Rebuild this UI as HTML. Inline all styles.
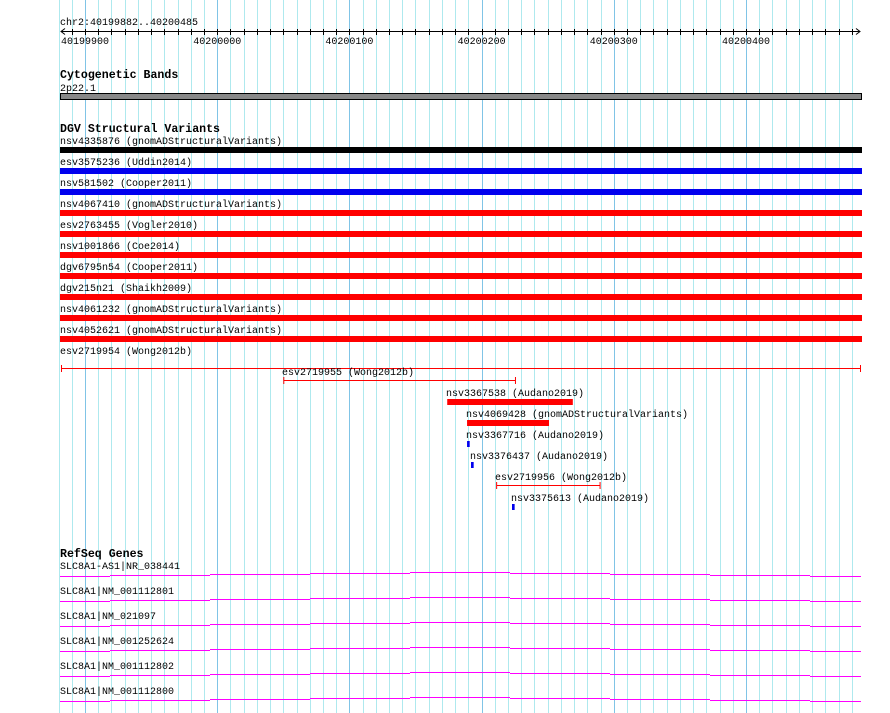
<!DOCTYPE html>
<html><head><meta charset="utf-8"><style>
html,body{margin:0;padding:0;background:#fff;}
svg{display:block;}
text{font-family:"Liberation Mono",monospace;font-size:10px;fill:#000;}
.t{font-weight:bold;font-size:11.6px;}
</style></head><body>
<svg id="c" width="890" height="713" xmlns="http://www.w3.org/2000/svg"></svg>
<script>
const START = 40199882, END = 40200485;
const rulerTicks = [40199900, 40200000, 40200100, 40200200, 40200300, 40200400];
const fullNames = ["nsv4335876 (gnomADStructuralVariants)","esv3575236 (Uddin2014)","nsv581502 (Cooper2011)","nsv4067410 (gnomADStructuralVariants)","esv2763455 (Vogler2010)","nsv1001866 (Coe2014)","dgv6795n54 (Cooper2011)","dgv215n21 (Shaikh2009)","nsv4061232 (gnomADStructuralVariants)","nsv4052621 (gnomADStructuralVariants)","esv2719954 (Wong2012b)"];
const fullColors = ["#000","#0000ee","#0000ee","#f00","#f00","#f00","#f00","#f00","#f00","#f00","line"];
const partNames = ["esv2719955 (Wong2012b)","nsv3367538 (Audano2019)","nsv4069428 (gnomADStructuralVariants)","nsv3367716 (Audano2019)","nsv3376437 (Audano2019)","esv2719956 (Wong2012b)","nsv3375613 (Audano2019)"];
const partStart = [40200050,40200174,40200189,40200189,40200192,40200211,40200223];
const partEnd   = [40200226,40200269,40200251,40200191,40200194,40200290,40200225];
const partColors = ["line","#f00","#f00","#0000ee","#0000ee","line","#0000ee"];
const geneNames = ["SLC8A1-AS1|NR_038441","SLC8A1|NM_001112801","SLC8A1|NM_021097","SLC8A1|NM_001252624","SLC8A1|NM_001112802","SLC8A1|NM_001112800"];
const geneSteps = [0,-1,-2,-3,-4,-3,-2,-1,0];

const SCALE = 1.322, X0 = 61.2;
const xs = bp => X0 + (bp - START) * SCALE;
const svg = document.getElementById('c');
const NS = 'http://www.w3.org/2000/svg';
function mk(tag, attrs, parent){const e=document.createElementNS(NS,tag);for(const k in attrs)e.setAttribute(k,attrs[k]);(parent||svg).appendChild(e);return e;}
function txt(x,y,s,cls){const e=mk('text',{x:x,y:y});if(cls)e.setAttribute('class',cls);e.textContent=s;return e;}

// grid
for(let bp=40199880; bp<=END; bp+=10){
  const x=Math.round(xs(bp))+0.5;
  const dark = bp%100===0;
  const l=mk('line',{x1:x,x2:x,y1:0,y2:713,stroke:dark?'#80c4e6':'#aee9ee','stroke-width':1});
  
  
}
// ruler
let e=txt(60,25,'chr2:40199882..40200485');


e=mk('line',{x1:61,x2:860,y1:31.5,y2:31.5,stroke:'#000'});


mk('path',{d:'M65,28.5 L61,31.5 L65,34.5 M856,28.5 L860,31.5 L856,34.5',stroke:'#000',fill:'none'});
for(let bp=40199890; bp<=END; bp+=10){
  const x=Math.round(xs(bp))+0.5;
  e=mk('line',{x1:x,x2:x,y1:29,y2:35,stroke:'#000'});
  
  
}
rulerTicks.forEach(bp=>{
  const t=txt(xs(bp),44,String(bp));
  t.setAttribute('text-anchor','middle');
  
  
});
// cytoband
e=txt(60,78,'Cytogenetic Bands','t');


e=txt(60,91,'2p22.1');


e=mk('rect',{x:60.5,y:93.5,width:801,height:6,fill:'#888',stroke:'#000'});


// DGV
e=txt(60,132,'DGV Structural Variants','t');


fullNames.forEach((n,i)=>{
  const y=144+21*i;
  const t=txt(60,y,n);
  
  
  const c=fullColors[i];
  if(c==='line'){
    const g=mk('path',{d:`M61,${y+14.5} H861 M61.5,${y+11} V${y+18} M860.5,${y+11} V${y+18}`,stroke:'#f00',fill:'none'});
    
    
  } else {
    const r=mk('rect',{x:60,y:y+3,width:802,height:6,fill:c});
    
    
  }
});
partNames.forEach((n,i)=>{
  const y=375+21*i;
  const x1=xs(partStart[i]), x2=xs(partEnd[i]);
  const t=txt(Math.round(x1)-1,y,n);
  
  
  const c=partColors[i];
  if(c==='line'){
    const g=mk('path',{d:`M${x1},${y+5.5} H${x2} M${x1+0.5},${y+2} V${y+9} M${x2-0.5},${y+2} V${y+9}`,stroke:'#f00',fill:'none'});
    
    
  } else {
    const r=mk('rect',{x:x1,y:y+3,width:Math.max(2,x2-x1),height:6,fill:c});
    
    
  }
});
// genes
e=txt(60,557,'RefSeq Genes','t');


geneNames.forEach((n,i)=>{
  const base=576+25*i;
  const t=txt(60,base-7,n);
  
  
  let d='';
  geneSteps.forEach((s,k)=>{
    const xa = k===0?60:10+100*k, xb = k===geneSteps.length-1?861:110+100*k;
    d+=`M${xa},${base+s+0.5} H${xb} `;
  });
  const g=mk('path',{d:d,stroke:'#f0f',fill:'none'});
  
  
});
</script>
</body></html>
